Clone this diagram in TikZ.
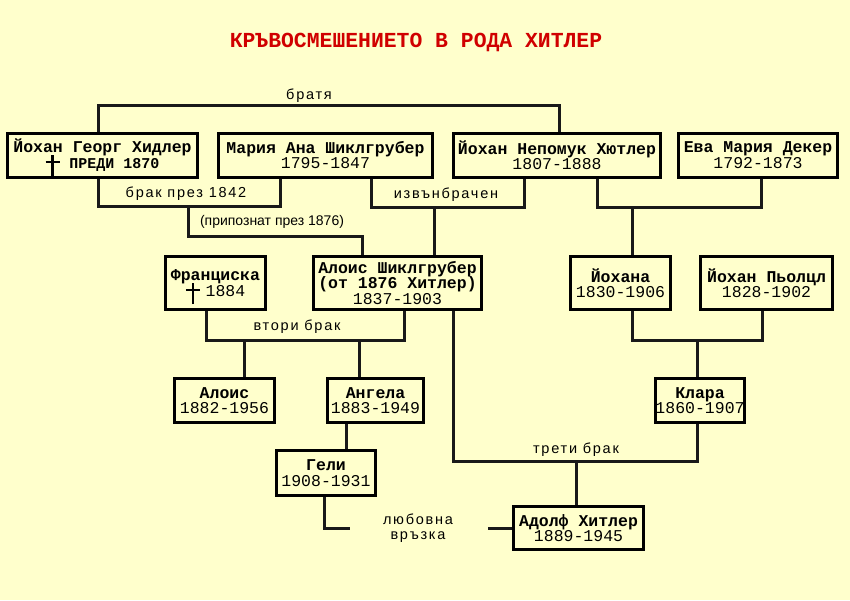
\documentclass[tikz,border=0pt]{standalone}
\usepackage{fontspec}
\setmainfont{Liberation Sans}
\newfontfamily\monof{Liberation Mono}
\definecolor{bgc}{HTML}{FFFFCC}
\definecolor{titlered}{HTML}{D00000}
\newcommand{\crossmk}{\smash{\makebox[24pt][l]{\hspace{6pt}\rule[-8pt]{2.6pt}{21pt}\hspace{-8.4pt}\rule[5pt]{14pt}{2.6pt}}}}
\tikzset{
 pbox/.style={draw=black, line width=3pt, fill=bgc, inner sep=0pt, align=center,
   font=\monof\fontsize{16.5}{15.5}\selectfont},
 conn/.style={draw=black!90, line width=3pt},
 lbl/.style={font=\fontsize{14.5}{16}\selectfont\addfontfeatures{LetterSpace=12}, inner sep=0pt, align=center},
 lblc/.style={font=\fontsize{14}{16}\selectfont, inner sep=0pt},
}
\begin{document}
\begin{tikzpicture}[x=1pt,y=-1pt]
\fill[bgc] (0,0) rectangle (850,600);
\useasboundingbox (0,0) rectangle (850,600);

\node[inner sep=0pt, text=titlered, font=\monof\bfseries\fontsize{21.4}{22}\selectfont] (title) at (416,42) {КРЪВОСМЕШЕНИЕТО В РОДА ХИТЛЕР};

% row 1
\node[pbox, minimum width=190pt, minimum height=44pt] (b1) at (102.5,155) {\textbf{Йохан Георг Хидлер}\\\crossmk\textbf{\fontsize{15}{15.5}\selectfont ПРЕДИ 1870}};
\node[pbox, minimum width=214pt, minimum height=44pt] (b2) at (325.5,155) {\textbf{Мария Ана Шиклгрубер}\\1795-1847};
\node[pbox, minimum width=207pt, minimum height=44pt] (b3) at (557,155) {\textbf{Йохан Непомук Хютлер}\\1807-1888};
\node[pbox, minimum width=159pt, minimum height=44pt] (b4) at (758,155) {\textbf{Ева Мария Декер}\\1792-1873};

% row 2
\node[pbox, minimum width=100pt, minimum height=53pt] (fr) at (215.5,283) {\textbf{Франциска}\\\crossmk\hspace{-4pt}1884};
\node[pbox, minimum width=168pt, minimum height=53pt] (al) at (397.5,283) {\textbf{Алоис Шиклгрубер}\\\textbf{(от 1876 Хитлер)}\\1837-1903};
\node[pbox, minimum width=100pt, minimum height=53pt] (jo) at (620.5,283) {\textbf{Йохана}\\1830-1906};
\node[pbox, minimum width=132pt, minimum height=53pt] (po) at (766.5,283) {\textbf{Йохан Пьолцл}\\1828-1902};

% row 3
\node[pbox, minimum width=100pt, minimum height=44pt] (alo) at (224.5,400.5) {\textbf{Алоис}\\1882-1956};
\node[pbox, minimum width=96pt, minimum height=44pt] (an) at (375.5,400.5) {\textbf{Ангела}\\1883-1949};
\node[pbox, minimum width=89pt, minimum height=44pt] (kl) at (700,400.5) {\textbf{Клара}\\1860-1907};
\node[pbox, minimum width=99pt, minimum height=45pt] (ge) at (326,473) {\textbf{Гели}\\1908-1931};
\node[pbox, minimum width=130pt, minimum height=43pt] (ad) at (578.5,528) {\textbf{Адолф Хитлер}\\1889-1945};

% connectors
\draw[conn] ([xshift=-4.5pt]b1.north) -- ++(0,-26) -| ([xshift=2pt]b3.north);
\draw[conn] ([xshift=-4.5pt]b1.south) -- ++(0,28) -| ([xshift=-45.5pt]b2.south);
\coordinate (m1) at (188,206);
\draw[conn] (m1) -- ++(0,30) -| ([xshift=-35.5pt]al.north);
\draw[conn] ([xshift=45.5pt]b2.south) -- ++(0,29) -| ([xshift=-33pt]b3.south);
\coordinate (m2) at (434,207);
\draw[conn] (m2) -- ([xshift=36.5pt]al.north);
\draw[conn] ([xshift=40pt]b3.south) -- ++(0,29) -| ([xshift=3pt]b4.south);
\coordinate (m3) at (632,207);
\draw[conn] (m3) -- ([xshift=11.5pt]jo.north);

\draw[conn] ([xshift=-9.5pt]fr.south) -- ++(0,29) -| ([xshift=6.5pt]al.south);
\coordinate (m4) at (244,340);
\draw[conn] (m4) -- ([xshift=19.5pt]alo.north);
\coordinate (m5) at (359,340);
\draw[conn] (m5) -- ([xshift=-16.5pt]an.north);

\draw[conn] ([xshift=11.5pt]jo.south) -- ++(0,29) -| ([xshift=-4.5pt]po.south);
\coordinate (m6) at (697,340);
\draw[conn] (m6) -- ([xshift=-3pt]kl.north);

\draw[conn] ([xshift=55.5pt]al.south) -- ++(0,150) -| ([xshift=-3pt]kl.south);
\coordinate (m7) at (576,461);
\draw[conn] (m7) -- ([xshift=-2.5pt]ad.north);

\draw[conn] ([xshift=-29.5pt]an.south) -- ([xshift=20pt]ge.north);
\coordinate (lv1) at (350,528);
\draw[conn] ([xshift=-2pt]ge.south) |- (lv1);
\coordinate (lv2) at (488,528);
\draw[conn] (lv2) -- (ad.west);

% labels
\node[lbl] (l1) at (309,96) {братя};
\node[lbl] (l2) at (186,194) {брак през 1842};
\node[lblc] (l3) at (272,222) {(припознат през 1876)};
\node[lbl] (l4) at (446,195) {извънбрачен};
\node[lbl] (l5) at (297,327) {втори брак};
\node[lbl] (l6) at (576,450) {трети брак};
\node[lbl, font=\fontsize{14.5}{15.5}\selectfont\addfontfeatures{LetterSpace=12}] (l7) at (418,528) {любовна\\връзка};
\end{tikzpicture}
\end{document}
